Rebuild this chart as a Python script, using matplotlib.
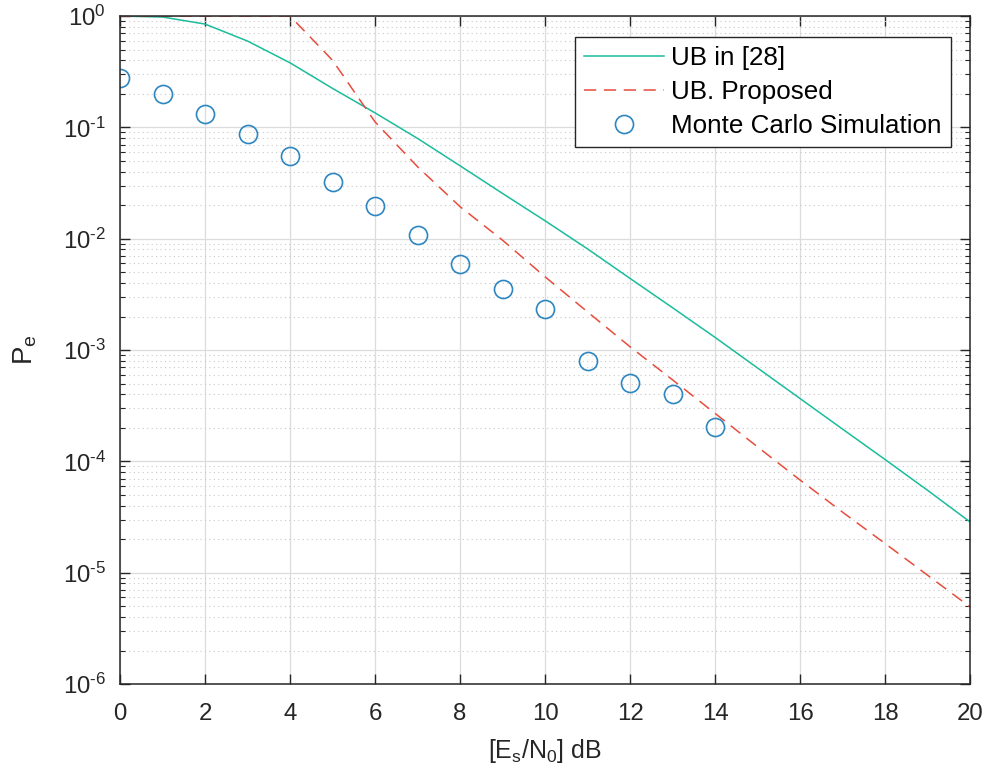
import numpy as np
import matplotlib
matplotlib.use("Agg")
import matplotlib.pyplot as plt
from matplotlib.ticker import FixedLocator, FixedFormatter, LogLocator, NullFormatter

plt.rcParams['font.family'] = ['Liberation Sans', 'DejaVu Sans']
plt.rcParams['mathtext.fontset'] = 'custom'
plt.rcParams['mathtext.rm'] = 'Liberation Sans'
plt.rcParams['mathtext.it'] = 'Liberation Sans:italic'

snr_db = list(range(0, 21))
ub_28 = [1.0, 0.98, 0.847, 0.596, 0.38, 0.224, 0.135, 0.0796, 0.0452, 0.0255, 0.0145,
         0.0081, 0.0044, 0.0024, 0.0013, 6.9e-4, 3.67e-4, 1.95e-4, 1.04e-4, 5.5e-5, 2.86e-5]
ub_proposed = [1.0, 1.0, 1.0, 1.0, 1.0, 0.40, 0.112, 0.0443, 0.0194, 0.0097, 0.00455,
               0.0022, 0.00107, 5.4e-4, 2.7e-4, 1.35e-4, 6.8e-5, 3.5e-5, 1.83e-5, 9.5e-6, 4.93e-6]
mc_snr = list(range(0, 15))
mc_sim = [0.275, 0.199, 0.132, 0.087, 0.0552, 0.0325, 0.0198, 0.0109, 0.0059, 0.00352,
          0.00233, 8.05e-4, 5.04e-4, 4.04e-4, 2.03e-4]

labels = ['UB in [28]', 'UB. Proposed', 'Monte Carlo Simulation']
xticks = list(range(0, 21, 2))
yexp = [-6, -5, -4, -3, -2, -1, 0]

fig = plt.figure(figsize=(9.88, 7.71), dpi=100)
ax = fig.add_axes([0.1215, 0.1128, 0.8603, 0.8664])

ax.plot(snr_db, ub_28, color='#1ABC9C', lw=1.1, label=labels[0])
ax.plot(snr_db, ub_proposed, color='#E74C3C', lw=1.1, ls=(0, (8, 5)), label=labels[1])
ax.plot(mc_snr, mc_sim, ls='none', marker='o', ms=13, mfc='none', mec='#2E86C1', mew=1.2,
        label=labels[2])

ax.set_yscale('log')
ax.set_xlim(0, 20)
ax.set_ylim(1e-6, 1)
ax.xaxis.set_major_locator(FixedLocator(xticks))
ax.set_xticklabels([str(v) for v in xticks])
ax.yaxis.set_major_locator(FixedLocator([10.0 ** e for e in yexp]))
ax.yaxis.set_major_formatter(FixedFormatter(
    [r'$\mathregular{10^{\text{-}%d}}$' % (-e) if e < 0 else r'$\mathregular{10^{0}}$' for e in yexp]))
ax.yaxis.set_minor_locator(LogLocator(base=10, subs=np.arange(2, 10), numticks=20))
ax.yaxis.set_minor_formatter(NullFormatter())

ax.grid(True, which='major', color='#dcdcdc', lw=0.9, ls='-')
ax.grid(True, which='minor', axis='y', color='#c8c8c8', lw=0.8, ls=(0, (1, 3)))
ax.set_axisbelow(True)

ax.tick_params(which='both', direction='in', top=True, right=True, colors='#262626',
               labelsize=17.3)
ax.tick_params(which='major', length=7, width=1)
ax.tick_params(which='minor', length=3.6, width=0.8)
ax.tick_params(axis='x', which='major', pad=14)
ax.tick_params(axis='y', which='major', pad=10)
for s in ax.spines.values():
    s.set_color('#262626')
    s.set_linewidth(1.1)

ax.set_xlabel(r'[E$_\mathregular{s}$/N$_\mathregular{0}$] dB', fontsize=18, color='#262626',
              labelpad=8)
ax.set_ylabel(r'P$_\mathregular{e}$', fontsize=20, color='#262626', labelpad=17)

leg = ax.legend(loc='upper right', fontsize=18.7, frameon=True, fancybox=False,
                edgecolor='#262626', framealpha=1, handlelength=3.1, borderpad=0.35,
                labelspacing=0.385, handletextpad=0.27, borderaxespad=0,
                bbox_to_anchor=(0.9776, 0.9686))
leg.get_frame().set_linewidth(1.0)

fig.savefig('out.png', dpi=100)
